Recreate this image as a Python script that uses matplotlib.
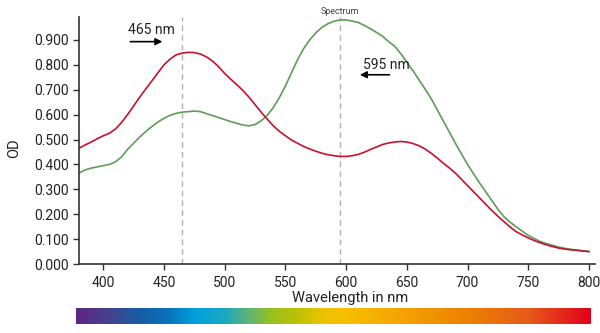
#!/usr/bin/env python3
"""Absorption spectrum (OD vs wavelength) with a visible-spectrum colour bar.

Creates out.png
"""

import numpy as np
import matplotlib
matplotlib.use("Agg")
import matplotlib.pyplot as plt
from matplotlib.colors import LinearSegmentedColormap

plt.rcParams['font.family'] = ['Roboto', 'DejaVu Sans']

# wavelength grid (nm), 5 nm steps, shared by both curves
wavelength = list(range(380, 801, 5))

# optical density
od_red = [0.465, 0.478, 0.49, 0.503, 0.515, 0.525, 0.542, 0.568, 0.600, 0.635,
          0.670, 0.703, 0.735, 0.768, 0.800, 0.823, 0.840, 0.847, 0.850, 0.849,
          0.843, 0.832, 0.815, 0.792, 0.765, 0.742, 0.720, 0.697, 0.670, 0.640,
          0.610, 0.582, 0.555, 0.533, 0.515, 0.498, 0.485, 0.472, 0.462, 0.453,
          0.445, 0.439, 0.435, 0.432, 0.432, 0.435, 0.440, 0.449, 0.460, 0.470,
          0.480, 0.486, 0.490, 0.492, 0.490, 0.484, 0.475, 0.462, 0.445, 0.426,
          0.405, 0.386, 0.365, 0.340, 0.315, 0.290, 0.265, 0.240, 0.215, 0.192,
          0.170, 0.149, 0.130, 0.117, 0.105, 0.094, 0.085, 0.077, 0.070, 0.064,
          0.060, 0.057, 0.055, 0.052, 0.050]

od_green = [0.365, 0.378, 0.385, 0.390, 0.395, 0.400, 0.410, 0.430, 0.460, 0.485,
            0.510, 0.532, 0.552, 0.570, 0.585, 0.597, 0.605, 0.610, 0.612, 0.614,
            0.612, 0.604, 0.596, 0.588, 0.580, 0.572, 0.565, 0.558, 0.555, 0.560,
            0.575, 0.597, 0.628, 0.668, 0.715, 0.768, 0.820, 0.865, 0.900, 0.928,
            0.950, 0.965, 0.975, 0.980, 0.980, 0.976, 0.970, 0.958, 0.945, 0.930,
            0.915, 0.893, 0.875, 0.845, 0.810, 0.777, 0.740, 0.703, 0.665, 0.620,
            0.575, 0.530, 0.485, 0.442, 0.400, 0.362, 0.325, 0.290, 0.255, 0.220,
            0.190, 0.168, 0.150, 0.132, 0.115, 0.102, 0.090, 0.082, 0.075, 0.068,
            0.063, 0.059, 0.056, 0.053, 0.050]

peaks = [465, 595]
peak_labels = ["465 nm", "595 nm"]

# colour stops of the spectrum strip
spec_pos = [0.0, 0.066, 0.124, 0.173, 0.23, 0.29, 0.33, 0.377, 0.435, 0.48,
            0.52, 0.67, 0.765, 0.88, 1.0]
spec_col = ["#5f2584", "#44448f", "#155ea6", "#0a70b8", "#00a0dc", "#1ea8c0",
            "#5ab27a", "#98c020", "#c0c200", "#ecc400", "#f8c000", "#f29a00",
            "#ec8000", "#e85a1a", "#e2001a"]

fig = plt.figure(figsize=(6.0, 3.33), dpi=100)
ax = fig.add_axes([79 / 600, 69 / 333, 516 / 600, 247 / 333])

ax.plot(wavelength, od_green, color='#5e9c58', lw=1.2)
ax.plot(wavelength, od_red, color='#c8102e', lw=1.2)

for p in peaks:
    ax.axvline(p, color='#b0b0b0', lw=1.0, ls=(0, (4, 3)), zorder=0)

ax.set_xlim(380, 805)
ax.set_ylim(0, 0.992)
ax.set_xticks(range(400, 801, 50))
ax.set_yticks(np.arange(0, 0.91, 0.1))
ax.yaxis.set_major_formatter(matplotlib.ticker.FormatStrFormatter('%.3f'))
for side in ('top', 'right'):
    ax.spines[side].set_visible(False)
for side in ('left', 'bottom'):
    ax.spines[side].set_color('#333333')
    ax.spines[side].set_linewidth(1.2)
ax.tick_params(colors='#333333', labelcolor='#222222', labelsize=10,
               length=4, width=1.0)
ax.tick_params(axis='x', pad=4.5)

ax.set_xlabel("Wavelength in nm", fontsize=10.5, color='#222222')
ax.xaxis.set_label_coords((350 - 79) / 516, -0.108)
ax.set_ylabel("OD", fontsize=10.5, color='#222222')
ax.yaxis.set_label_coords(-0.112, 0.47)

ax.text(595, 1.005, "Spectrum", fontsize=6.5, color='#444444',
        ha='center', va='bottom', transform=ax.get_xaxis_transform())

# peak annotations
ax.text(420, 0.94, peak_labels[0], fontsize=10, color='#222222',
        ha='left', va='center')
ax.annotate("", xy=(451, 0.893), xytext=(420, 0.893),
            arrowprops=dict(arrowstyle='-|>', color='black', lw=1.2,
                            mutation_scale=10))
ax.text(614, 0.80, peak_labels[1], fontsize=10, color='#222222',
        ha='left', va='center')
ax.annotate("", xy=(609, 0.76), xytext=(638, 0.76),
            arrowprops=dict(arrowstyle='-|>', color='black', lw=1.2,
                            mutation_scale=10))

# visible spectrum strip
cax = fig.add_axes([76 / 600, 9 / 333, 515 / 600, 16 / 333])
cmap = LinearSegmentedColormap.from_list('spec', list(zip(spec_pos, spec_col)))
cax.imshow(np.linspace(0, 1, 512)[None, :], aspect='auto', cmap=cmap)
cax.set_axis_off()

fig.savefig('out.png', dpi=100)
plt.close(fig)
